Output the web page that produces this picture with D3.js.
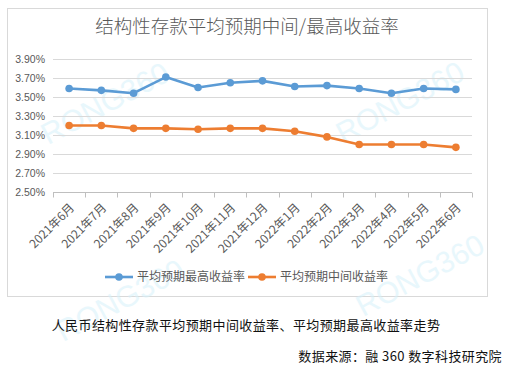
<!DOCTYPE html>
<html>
<head>
<meta charset="utf-8">
<script src="https://cdn.jsdelivr.net/npm/d3@7"></script>
<style>
  html, body { margin: 0; padding: 0; background: #fff; }
  svg { display: block; font-family: "Noto Sans CJK SC", "Microsoft YaHei", sans-serif; }
</style>
</head>
<body>
<svg id="chart" width="509" height="365"></svg>
<script>
const months = ["2021年6月", "2021年7月", "2021年8月", "2021年9月", "2021年10月", "2021年11月", "2021年12月",
  "2022年1月", "2022年2月", "2022年3月", "2022年4月", "2022年5月", "2022年6月"];
const maxRate = [3.59, 3.57, 3.54, 3.71, 3.60, 3.65, 3.67, 3.61, 3.62, 3.59, 3.54, 3.59, 3.58];
const midRate = [3.20, 3.20, 3.17, 3.17, 3.16, 3.17, 3.17, 3.14, 3.08, 3.00, 3.00, 3.00, 2.97];
const yTicks = [2.5, 2.7, 2.9, 3.1, 3.3, 3.5, 3.7, 3.9];
const seriesNames = ["平均预期最高收益率", "平均预期中间收益率"];
const colors = ["#5b9bd5", "#ed7d31"];

const svg = d3.select("#chart");
const grey = "#595959";

// outer frame of the chart area
svg.append("rect").attr("x", 7.5).attr("y", 8.5).attr("width", 480).attr("height", 288)
  .attr("fill", "#fff").attr("stroke", "#d9d9d9");

// faint watermarks
[[105, 103], [400, 102], [120, 300], [420, 275]].forEach(([x, y]) => {
  svg.append("text").attr("transform", `translate(${x},${y}) rotate(-28)`)
    .attr("text-anchor", "middle").attr("dy", "0.35em").attr("font-family", "Arial, Liberation Sans, sans-serif")
    .attr("font-size", 30).attr("fill", "#d6f1fa").attr("opacity", 0.55).text("RONG360");
});

svg.append("text").attr("x", 247).attr("y", 33).attr("text-anchor", "middle")
  .attr("font-size", 18.5).attr("font-weight", 300).attr("fill", grey).text("结构性存款平均预期中间/最高收益率");

const x = d3.scaleBand().domain(months).range([53, 472]);
const y = d3.scaleLinear().domain([2.5, 3.9]).range([192, 59]);

const grid = svg.append("g");
grid.selectAll("line").data(yTicks.slice(1)).enter().append("line")
  .attr("x1", 53).attr("x2", 472)
  .attr("y1", (d) => Math.round(y(d)) + 0.5).attr("y2", (d) => Math.round(y(d)) + 0.5)
  .attr("stroke", "#d9d9d9");

const yAxis = svg.append("g").attr("transform", "translate(53,0)")
  .call(d3.axisLeft(y).tickValues(yTicks).tickFormat((d) => d.toFixed(2) + "%").tickSize(0).tickPadding(8));
yAxis.select(".domain").remove();
yAxis.selectAll("text").attr("font-family", "Arial, Liberation Sans, sans-serif")
  .attr("font-size", 10.5).attr("fill", grey);

const xAxisY = Math.round(y(2.5)) + 0.5;
svg.append("line").attr("x1", 53).attr("x2", 472).attr("y1", xAxisY).attr("y2", xAxisY).attr("stroke", "#bfbfbf");
svg.append("g").selectAll("line").data(d3.range(months.length + 1)).enter().append("line")
  .attr("x1", (i) => Math.round(53 + i * x.step()) + 0.5).attr("x2", (i) => Math.round(53 + i * x.step()) + 0.5)
  .attr("y1", xAxisY).attr("y2", xAxisY + 5).attr("stroke", "#bfbfbf");

svg.append("g").selectAll("text").data(months).enter().append("text")
  .attr("transform", (d) => `translate(${x(d) + x.bandwidth() / 2 + 3},${xAxisY + 13}) rotate(-45)`)
  .attr("text-anchor", "end").attr("dy", "0.35em")
  .attr("font-size", 12).attr("fill", grey).text((d) => d);

const line = d3.line().x((d, i) => x(months[i]) + x.bandwidth() / 2).y((d) => y(d));
[maxRate, midRate].forEach((series, k) => {
  const g = svg.append("g");
  g.append("path").datum(series).attr("d", line).attr("fill", "none")
    .attr("stroke", colors[k]).attr("stroke-width", 2.6).attr("stroke-linejoin", "round");
  g.selectAll("circle").data(series).enter().append("circle")
    .attr("cx", (d, i) => x(months[i]) + x.bandwidth() / 2).attr("cy", (d) => y(d))
    .attr("r", 3.8).attr("fill", colors[k]);
});

// legend
const legend = svg.append("g").attr("transform", "translate(105,277)");
const legendX = [0, 143];
seriesNames.forEach((name, k) => {
  const g = legend.append("g").attr("transform", `translate(${legendX[k]},0)`);
  g.append("line").attr("x1", 0).attr("x2", 28).attr("stroke", colors[k]).attr("stroke-width", 2.6);
  g.append("circle").attr("cx", 14).attr("r", 3.8).attr("fill", colors[k]);
  g.append("text").attr("x", 32).attr("dy", "0.35em").attr("font-size", 12).attr("fill", grey).text(name);
});

svg.append("text").attr("x", 246).attr("y", 330).attr("text-anchor", "middle")
  .attr("font-size", 13).attr("letter-spacing", 0.4).attr("fill", "#111").text("人民币结构性存款平均预期中间收益率、平均预期最高收益率走势");
svg.append("text").attr("x", 502).attr("y", 361).attr("text-anchor", "end")
  .attr("font-size", 13).attr("letter-spacing", 0.4).attr("fill", "#111").text("数据来源：融 360 数字科技研究院");
</script>
</body>
</html>
